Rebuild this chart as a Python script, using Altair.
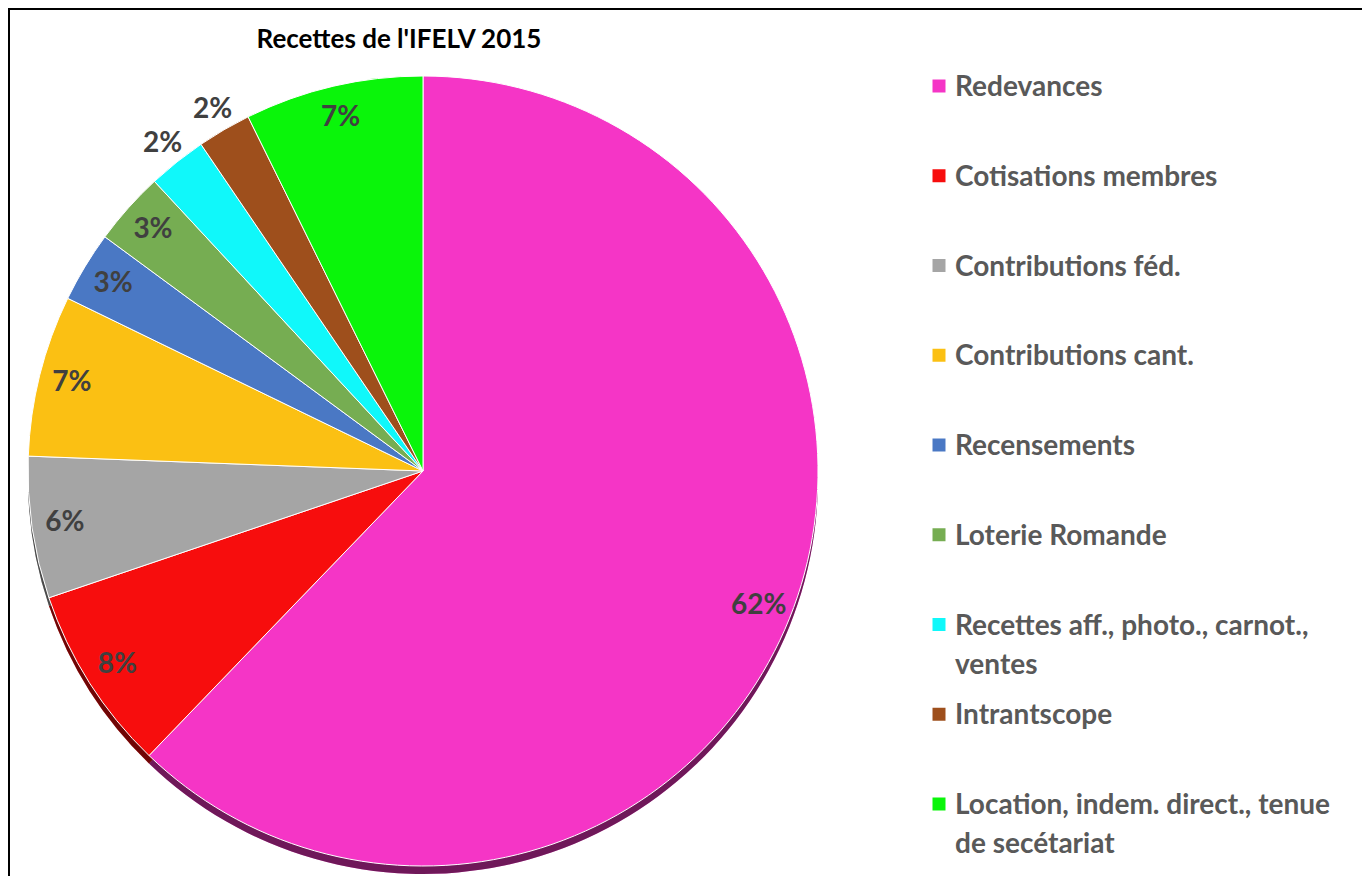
import altair as alt
import pandas as pd

title_text = "Recettes de l'IFELV 2015"
categories = [
    "Redevances",
    "Cotisations membres",
    "Contributions féd.",
    "Contributions cant.",
    "Recensements",
    "Loterie Romande",
    "Recettes aff., photo., carnot., ventes",
    "Intrantscope",
    "Location, indem. direct., tenue de secétariat",
]
legend_labels = [
    "Redevances",
    "Cotisations membres",
    "Contributions féd.",
    "Contributions cant.",
    "Recensements",
    "Loterie Romande",
    "Recettes aff., photo., carnot.,\nventes",
    "Intrantscope",
    "Location, indem. direct., tenue\nde secétariat",
]
values = [62.2, 7.6, 5.8, 6.6, 2.9, 3.0, 2.4, 2.2, 7.3]
colors = ["#F535C6", "#F70D0D", "#A5A5A5", "#FBC013", "#4A78C4",
          "#76AD52", "#10F8FA", "#9E4F1C", "#0AF50A"]

W, H = 1354, 868
CX, CY, R = 415, 463, 395

df = pd.DataFrame({
    "cat": categories,
    "label": legend_labels,
    "value": values,
    "idx": list(range(len(categories))),
})

base = alt.Chart(df)
theta = alt.Theta("value:Q", stack=True)
order = alt.Order("idx:Q", sort="ascending")
color = alt.Color("cat:N", scale=alt.Scale(domain=categories, range=colors), legend=None)

shadow = base.mark_arc(radius=R).encode(
    theta=theta, order=order, color=color, x=alt.value(CX), y=alt.value(CY + 8)
)
shadow_dark = base.mark_arc(radius=R, color="black", opacity=0.55).encode(
    theta=theta, order=order, x=alt.value(CX), y=alt.value(CY + 8)
)
pie = base.mark_arc(radius=R, stroke="white", strokeWidth=1).encode(
    theta=theta, order=order, color=color, x=alt.value(CX), y=alt.value(CY)
)

lab_base = (
    base.transform_joinaggregate(total="sum(value)")
    .transform_window(cum="sum(value)", sort=[alt.SortField("idx", order="ascending")],
                      frame=[None, 0])
    .transform_calculate(pct="datum.value / datum.total",
                         mid="(datum.cum - datum.value / 2) / datum.total")
)
lab_theta = alt.Theta("mid:Q", stack=None, scale=alt.Scale(domain=[0, 1]))
lab_style = dict(font="Lato", fontWeight="bold", fontSize=28, color="#404040",
                 baseline="middle", align="center")
labels_in = lab_base.transform_filter("datum.pct >= 0.025").mark_text(
    radius=362, **lab_style
).encode(theta=lab_theta, text=alt.Text("pct:Q", format=".0%"),
         x=alt.value(CX), y=alt.value(CY))
labels_out = lab_base.transform_filter("datum.pct < 0.025").mark_text(
    radius=418, **lab_style
).encode(theta=lab_theta, text=alt.Text("pct:Q", format=".0%"),
         x=alt.value(CX), y=alt.value(CY))

ypos = alt.Y("cat:N", sort=categories,
             scale=alt.Scale(type="point", range=[78, 796], padding=0), axis=None)
squares = base.mark_square(size=169, opacity=1).encode(
    x=alt.value(931), y=ypos, color=color
)
legend_text = base.mark_text(
    align="left", baseline="alphabetic", dy=10, font="Lato", fontWeight="bold",
    fontSize=28, color="#595959", lineHeight=39, lineBreak="\n"
).encode(x=alt.value(947), y=ypos, text="label:N")

title = alt.Chart(pd.DataFrame({"t": [title_text]})).mark_text(
    font="Lato", fontWeight="bold", fontSize=26, color="#000000",
    align="center", baseline="alphabetic"
).encode(text="t:N", x=alt.value(391), y=alt.value(40))

frame_top = alt.Chart(pd.DataFrame({"a": [0]})).mark_rule(color="black", strokeWidth=3).encode(
    x=alt.value(0), x2=alt.value(W), y=alt.value(0.5)
)
frame_left = alt.Chart(pd.DataFrame({"a": [0]})).mark_rule(color="black", strokeWidth=3).encode(
    x=alt.value(0.5), y=alt.value(0), y2=alt.value(H)
)

chart = alt.layer(
    shadow, shadow_dark, pie, labels_in, labels_out, squares, legend_text, title,
    frame_top, frame_left
).resolve_scale(
    theta="independent"
).properties(
    width=W, height=H, padding=0, autosize="none"
).configure_view(stroke=None)

chart.save("out.html", embed_options={"renderer": "svg", "actions": False})
